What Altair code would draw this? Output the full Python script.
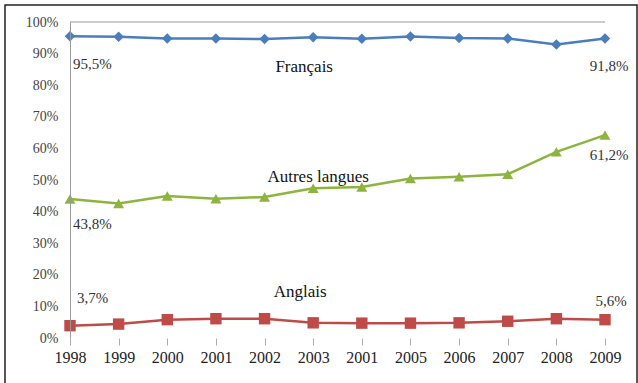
import altair as alt
import pandas as pd

years = [1998, 1999, 2000, 2001, 2002, 2003, 2004, 2005, 2006, 2007, 2008, 2009]
tick_labels = ["1998", "1999", "2000", "2001", "2002", "2003", "2001", "2005", "2006", "2007", "2008", "2009"]
francais = [95.5, 95.3, 94.8, 94.8, 94.6, 95.2, 94.7, 95.4, 94.9, 94.8, 92.9, 94.8]
autres = [44.0, 42.6, 44.9, 44.1, 44.6, 47.4, 47.8, 50.5, 51.0, 51.8, 58.9, 64.2]
anglais = [3.9, 4.4, 5.8, 6.1, 6.1, 4.8, 4.7, 4.7, 4.8, 5.3, 6.1, 5.8]
series_names = ["Français", "Autres langues", "Anglais"]
colors = ["#4A7EBB", "#8DB43E", "#BE4B48"]
shapes = ["diamond", "triangle-up", "square"]
sizes = [110, 130, 150]

SERIF = "Liberation Serif"

W, H = 535, 316
PAD_L, PAD_T = 70, 22

rows = []
for name, vals in zip(series_names, [francais, autres, anglais]):
    for y, v in zip(years, vals):
        rows.append({"year": y, "value": v, "serie": name})
df = pd.DataFrame(rows)

label_expr = "[" + ",".join("'%s'" % t for t in tick_labels) + "][datum.value - 1998]"

xs = alt.Scale(domain=[1998, 2009], nice=False, zero=False)
ys = alt.Scale(domain=[0, 100], nice=False)

x_axis = alt.Axis(
    values=years, labelExpr=label_expr, title=None, grid=False, domain=False,
    ticks=True, tickColor="#AAAAAA", tickSize=7, labelFlush=False,
    labelFont=SERIF, labelFontSize=16, labelColor="#222222", labelPadding=4,
    labelOverlap=False, zindex=2)
y_axis = alt.Axis(
    values=list(range(0, 101, 10)), labelExpr="datum.value + '%'",
    title=None, grid=False, domain=True, domainColor="#999999", ticks=False,
    labelFont=SERIF, labelFontSize=14, labelColor="#444444", labelPadding=12,
    labelFlush=False, labelOverlap=False, zindex=2)

color_scale = alt.Scale(domain=series_names, range=colors)
shape_scale = alt.Scale(domain=series_names, range=shapes)
size_scale = alt.Scale(domain=series_names, range=sizes)

X = alt.X("year:Q", scale=xs, axis=x_axis)
Y = alt.Y("value:Q", scale=ys, axis=y_axis)

base = alt.Chart(df)

frame = alt.Chart(pd.DataFrame({"a": [0]})).mark_rect(
    fillOpacity=0, stroke="#222222", strokeWidth=1.5, clip=False
).encode(x=alt.value(-65), x2=alt.value(567), y=alt.value(-17), y2=alt.value(375))

lines = base.mark_line(strokeWidth=2.5).encode(
    x=X, y=Y,
    color=alt.Color("serie:N", scale=color_scale, legend=None),
    detail="serie:N")

top_rule = alt.Chart(pd.DataFrame({"v": [100]})).mark_rule(color="#999999", strokeWidth=1).encode(
    y=alt.Y("v:Q", scale=ys, axis=y_axis))

points = base.mark_point(filled=True, opacity=1).encode(
    x=X, y=Y,
    color=alt.Color("serie:N", scale=color_scale, legend=None),
    shape=alt.Shape("serie:N", scale=shape_scale, legend=None),
    size=alt.Size("serie:N", scale=size_scale, legend=None))


def label(serie, year, text, align, dx, dy, size=15, color="#333333"):
    return base.transform_filter(
        (alt.datum.serie == serie) & (alt.datum.year == year)
    ).mark_text(
        text=text, align=align, baseline="middle", dx=dx, dy=dy,
        font=SERIF, fontSize=size, color=color
    ).encode(x=X, y=Y)


labels = [
    label("Français", 1998, "95,5%", "left", 3, 28),
    label("Français", 2009, "91,8%", "center", 4, 28),
    label("Autres langues", 1998, "43,8%", "left", 3, 25),
    label("Autres langues", 2009, "61,2%", "center", 4, 20),
    label("Anglais", 1998, "3,7%", "left", 7, -28),
    label("Anglais", 2009, "5,6%", "center", 6, -19),
    label("Français", 2003, "Français", "center", -9, 30, 17, "#111111"),
    label("Autres langues", 2003, "Autres langues", "center", 5, -11, 17, "#111111"),
    label("Anglais", 2003, "Anglais", "center", -13, -31, 17, "#111111"),
]

chart = alt.layer(lines, frame, top_rule, points, *labels).properties(
    width=W, height=H,
    autosize=alt.AutoSizeParams(type="none"),
    padding={"left": PAD_L, "top": PAD_T, "right": 638 - PAD_L - W, "bottom": 383 - PAD_T - H},
    background="white"
).configure_view(stroke=None)

chart.save("out.html", embed_options={"renderer": "svg", "actions": False})
